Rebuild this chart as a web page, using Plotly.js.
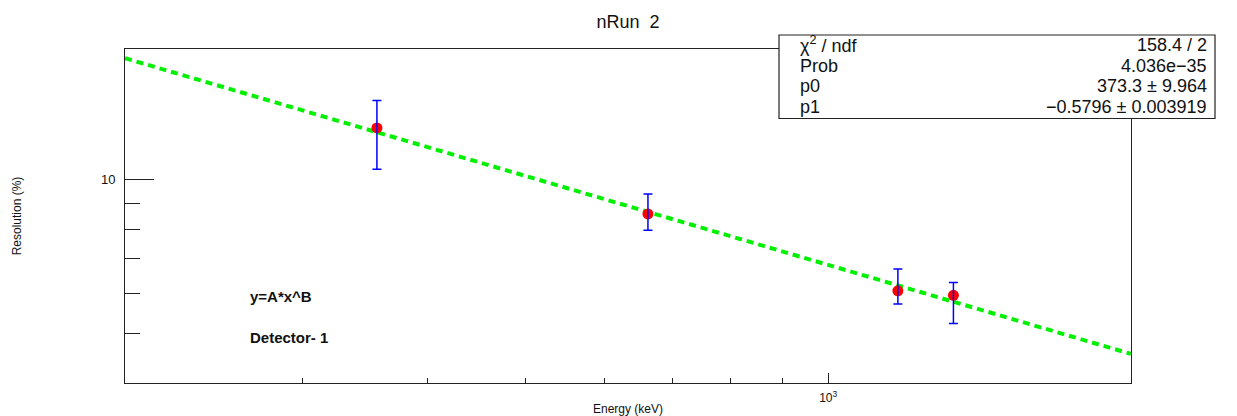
<!DOCTYPE html>
<html>
<head>
<meta charset="utf-8">
<script src="https://cdn.plot.ly/plotly-3.0.1.min.js"></script>
<style>html,body{margin:0;padding:0;background:#fff;}#chart{width:1237px;height:416px;}</style>
</head>
<body>
<div id="chart"></div>
<script>
// ---- data ----
const energy = [356, 662, 1173, 1332];              // keV
const resolution = [12.63, 8.57, 6.06, 5.94];       // %
const errPlus = [1.67, 0.81, 0.63, 0.35];
const errMinus = [2.14, 0.61, 0.35, 0.71];
const fitX = [200, 2000];                            // fit function range (keV)
const fitY = [17.3, 4.56];                           // y=A*x^B at the range ends
const statLabels = ["χ<sup>2</sup> / ndf", "Prob", "p0", "p1"];
const statValues = ["158.4 / 2", "4.036e\u221235", "373.3 ± 9.964", "\u22120.5796 ± 0.003919"];
const xMajorTicks = [1000];
const xMajorText = ["10<sup>3</sup>"];
const xMinorTicks = [300, 400, 500, 600, 700, 800, 900];
const yMajorTicks = [10];
const yMajorText = ["10"];
const yMinorTicks = [5, 6, 7, 8, 9];
const xRange = [200, 2000];
const yRange = [4, 18.03];

const FONT = "Liberation Sans, Arial, Helvetica, sans-serif";
const ML = 125, MR = 106, MT = 49, MB = 33, W = 1237, H = 416;
const PW = W - ML - MR, PH = H - MT - MB;
const px = x => (x - ML) / PW;        // pixel -> paper x
const py = y => (H - MB - y) / PH;    // pixel -> paper y

const traces = [
  {
    x: fitX, y: fitY, type: 'scatter', mode: 'lines',
    line: {color: '#00f000', width: 4, dash: '7px,5px'},
    hoverinfo: 'skip', showlegend: false
  },
  {
    x: energy, y: resolution, type: 'scatter', mode: 'markers',
    marker: {color: '#ff0000', size: 11, symbol: 'circle'},
    showlegend: false
  },
  {
    x: energy, y: resolution, type: 'scatter', mode: 'markers',
    marker: {color: 'rgba(0,0,0,0)', size: 11},
    error_y: {type: 'data', symmetric: false, array: errPlus, arrayminus: errMinus,
              color: '#0000ff', thickness: 1.5, width: 4.5},
    showlegend: false, hoverinfo: 'skip'
  }
];

const annotations = [];
const rowY = [45, 66, 86, 107];
statLabels.forEach((t, i) => {
  annotations.push({xref: 'paper', yref: 'paper', x: px(798), y: py(rowY[i]),
    xanchor: 'left', yanchor: 'middle', text: t, showarrow: false,
    font: {family: FONT, size: 18, color: '#111'}});
  annotations.push({xref: 'paper', yref: 'paper', x: px(1209), y: py(rowY[i]),
    xanchor: 'right', yanchor: 'middle', text: statValues[i], showarrow: false,
    font: {family: FONT, size: 18, color: '#111'}});
});
annotations.push({xref: 'paper', yref: 'paper', x: px(248), y: py(296),
  xanchor: 'left', yanchor: 'middle', text: '<b>y=A*x^B</b>', showarrow: false,
  font: {family: FONT, size: 15, color: '#111'}});
annotations.push({xref: 'paper', yref: 'paper', x: px(248), y: py(337),
  xanchor: 'left', yanchor: 'middle', text: '<b>Detector- 1</b>', showarrow: false,
  font: {family: FONT, size: 15, color: '#111'}});

const layout = {
  width: W, height: H,
  margin: {l: ML, r: MR, t: MT, b: MB, pad: 0},
  paper_bgcolor: '#fff', plot_bgcolor: '#fff',
  font: {family: FONT, color: '#111'},
  title: {text: 'nRun\u00a0 2', x: 0.5, xref: 'paper', y: 1 - 21.7 / H, yref: 'container',
          xanchor: 'center', yanchor: 'middle', font: {family: FONT, size: 18, color: '#111'}},
  xaxis: {
    type: 'log', range: xRange.map(Math.log10),
    showline: true, mirror: true, linecolor: '#222', linewidth: 1,
    showgrid: false, zeroline: false,
    ticks: 'inside', ticklen: 10, tickwidth: 1, tickcolor: '#222',
    tickmode: 'array', tickvals: xMajorTicks, ticktext: xMajorText,
    tickfont: {family: FONT, size: 12, color: '#111'},
    ticklabelstandoff: 4,
    minor: {tickmode: 'array', tickvals: xMinorTicks, ticks: 'inside', ticklen: 5, tickwidth: 1, tickcolor: '#222', showgrid: false},
    title: {text: 'Energy (keV)', font: {family: FONT, size: 12, color: '#111'}, standoff: 1},
    automargin: false
  },
  yaxis: {
    type: 'log', range: yRange.map(Math.log10),
    showline: true, mirror: true, linecolor: '#222', linewidth: 1,
    showgrid: false, zeroline: false,
    ticks: 'inside', ticklen: 29, tickwidth: 1, tickcolor: '#222',
    tickmode: 'array', tickvals: yMajorTicks, ticktext: yMajorText,
    tickfont: {family: FONT, size: 13, color: '#111'},
    ticklabelstandoff: 6,
    minor: {tickmode: 'array', tickvals: yMinorTicks, ticks: 'inside', ticklen: 15, tickwidth: 1, tickcolor: '#222', showgrid: false},
    title: {text: 'Resolution (%)', font: {family: FONT, size: 12, color: '#111'}, standoff: 76},
    automargin: false
  },
  shapes: [
    {type: 'rect', xref: 'paper', yref: 'paper', x0: px(779), x1: px(1215), y0: py(118.5), y1: py(35),
     fillcolor: '#fff', line: {color: '#222', width: 1.2}, layer: 'above'}
  ],
  annotations: annotations
};

Plotly.newPlot('chart', traces, layout, {displayModeBar: false, staticPlot: true});
</script>
</body>
</html>
